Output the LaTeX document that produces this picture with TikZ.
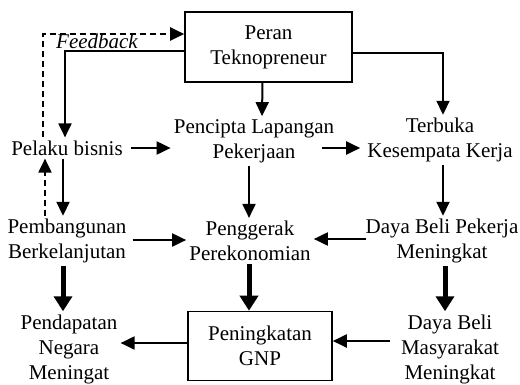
\documentclass[tikz,border=0pt]{standalone}
\usepackage{fontspec}
\setmainfont{Liberation Serif}
\usetikzlibrary{arrows.meta}

\begin{document}
\begin{tikzpicture}[x=1pt,y=-1pt]
                    \tikzstyle{every node}+=[inner sep=3pt, align=center, font=\fontsize{21}{25}\selectfont]
                    \tikzstyle{kotak}=[draw=black, line width=1.6pt]
                    \tikzstyle{panah}=[black, line width=2pt, -{Triangle[length=14pt,width=13pt]}]
                    \tikzstyle{tebal}=[black, line width=5pt, -{Triangle[length=15pt,width=18pt]}]
                    \tikzstyle{balik}=[panah, dash pattern=on 6pt off 4pt]
                    \useasboundingbox (0,0) rectangle (520,384);
                    % kotak
                    \node [kotak, minimum width=167pt, minimum height=70pt] (peran) at (268.5,47) {Peran\\Teknopreneur};
                    \node [kotak, minimum width=144pt, minimum height=69pt] (gnp) at (260,346) {Peningkatan\\GNP};
                    % teks
                    \node (fb) at (97,41) {\itshape Feedback};
                    \node (pelaku) at (67,148) {Pelaku bisnis};
                    \node (pencipta) at (254,141) {Pencipta Lapangan\\Pekerjaan};
                    \node (terbuka) at (440,140) {Terbuka\\Kesempata Kerja};
                    \node (pembangunan) at (67,241) {Pembangunan\\Berkelanjutan};
                    \node (penggerak) at (250,241) {Penggerak\\Perekonomian};
                    \node (dayabeli) at (442,241) {Daya Beli Pekerja\\Meningkat};
                    \node (pendapatan) at (69,349) {Pendapatan\\Negara\\Meningat};
                    \node (masyarakat) at (450,349) {Daya Beli\\Masyarakat\\Meningkat};
                    % panah dari peran
                    \draw [panah] ([yshift=-4pt]peran.west) -| ([xshift=-2pt]pelaku.north);
                    \draw [panah] ([xshift=-6pt]peran.south) -- ([xshift=8pt]pencipta.north);
                    \draw [panah] ([yshift=-6pt]peran.east) -| ([xshift=3pt]terbuka.north);
                    % feedback
                    \draw [balik] ([xshift=-24pt]pelaku.north) |- ([yshift=13pt]peran.west);
                    \draw [balik] ([xshift=-22pt]pembangunan.north) -- ([xshift=-22pt]pelaku.south);
                    % baris atas
                    \draw [panah] ([xshift=5pt]pelaku.east) -- (pencipta.west |- pelaku.east);
                    \draw [panah] ([xshift=-15pt]pencipta.east |- pelaku.east) -- ([xshift=-4pt]terbuka.west |- pelaku.east);
                    \draw [panah] ([xshift=-4pt]pelaku.south) -- ([xshift=-4pt]pembangunan.north);
                    \draw [panah] ([xshift=-5pt]pencipta.south) -- ([xshift=-1pt]penggerak.north);
                    \draw [panah] ([xshift=3pt]terbuka.south) -- ([xshift=1pt]dayabeli.north);
                    % baris tengah
                    \draw [panah] ([xshift=3pt,yshift=1pt]pembangunan.east) -- ([yshift=1pt]penggerak.west);
                    \draw [panah] ([xshift=4pt,yshift=2pt]dayabeli.west) -- ([yshift=2pt]penggerak.east);
                    % baris bawah
                    \draw [tebal] ([xshift=-4pt]pembangunan.south) -- ([xshift=-6pt]pendapatan.north);
                    \draw [tebal] ([xshift=-1pt]penggerak.south) -- ([xshift=-1pt]penggerak.south |- gnp.north);
                    \draw [tebal] ([xshift=3pt]dayabeli.south) -- ([xshift=-5pt]masyarakat.north);
                    \draw [panah] ([yshift=3pt]gnp.west) -- ([yshift=3pt]pendapatan.east |- gnp.west);
                    \draw [panah] ([xshift=-8pt,yshift=8pt]masyarakat.west) -- ([yshift=5pt]gnp.east);
\end{tikzpicture}
\end{document}
